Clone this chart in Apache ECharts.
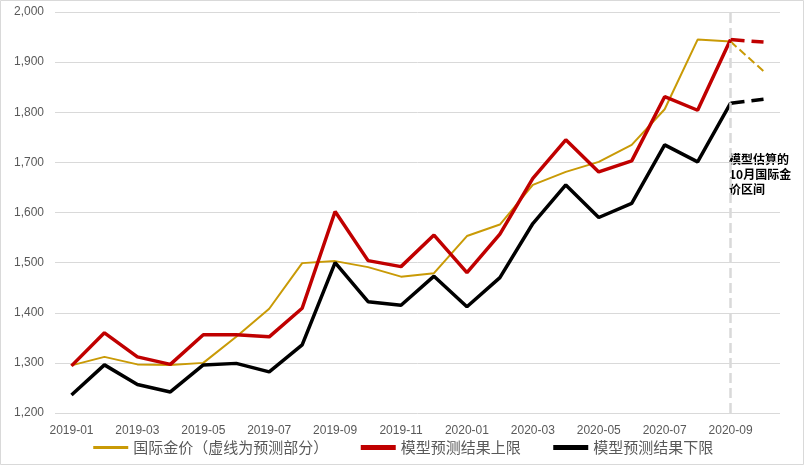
<!DOCTYPE html>
<html>
<head>
<meta charset="utf-8">
<script src="https://cdn.jsdelivr.net/npm/echarts@6/dist/echarts.min.js"></script>
<style>html,body{margin:0;padding:0;background:#fff}#c{width:805px;height:466px}</style>
</head>
<body>
<div id="c"></div>
<script>
var categories = ['2019-01','2019-02','2019-03','2019-04','2019-05','2019-06','2019-07','2019-08','2019-09','2019-10','2019-11','2019-12','2020-01','2020-02','2020-03','2020-04','2020-05','2020-06','2020-07','2020-08','2020-09','2020-10'];
var goldActual = [1295,1312,1297,1296,1300,1352,1408,1499,1503,1491,1472,1479,1553,1576,1655,1681,1701,1735,1806,1945,1941,null];
var goldForecast = [null,null,null,null,null,null,null,null,null,null,null,null,null,null,null,null,null,null,null,null,1941,1882];
var upperModel = [1294,1360,1312,1297,1356,1356,1352,1409,1602,1504,1492,1555,1480,1557,1668,1745,1681,1703,1831,1804,1945,null];
var upperForecast = [null,null,null,null,null,null,null,null,null,null,null,null,null,null,null,null,null,null,null,null,1945,1940];
var lowerModel = [1236,1296,1257,1242,1296,1299,1282,1336,1500,1422,1415,1473,1412,1470,1578,1655,1590,1618,1735,1701,1818,null];
var lowerForecast = [null,null,null,null,null,null,null,null,null,null,null,null,null,null,null,null,null,null,null,null,1818,1826];
var seriesNames = ['国际金价（虚线为预测部分）','模型预测结果上限','模型预测结果下限'];
var forecastMonth = '2020-09';
var noteText = '模型估算的\n10月国际金\n价区间';

var chart = echarts.init(document.getElementById('c'), null, {renderer:'canvas'});
var gold = '#C99A06', red = '#C00000', black = '#000000';
function line(name, data, color, width, dashed, z){
  return {name:name, type:'line', data:data, symbol:'none', smooth:false,
    lineStyle:{color:color, width:width, type: dashed ? 'dashed' : 'solid'},
    itemStyle:{color:color}, connectNulls:false, z: z || 2};
}
var markerSeries = {name:'marker', type:'line', data:[], symbol:'none', silent:true, z:1,
  markLine:{silent:true, symbol:'none', label:{show:false}, animation:false,
    lineStyle:{color:'#d9d9d9', type:'dashed', width:2.5},
    data:[{xAxis:forecastMonth}]}};
chart.setOption({
  animation:false,
  backgroundColor:'#fff',
  graphic:[
    {type:'rect', shape:{x:0.5,y:0.5,width:803,height:464}, style:{fill:null, stroke:'#d9d9d9', lineWidth:1}, silent:true, z:-1},
    {type:'text', left:729, top:152, style:{text:noteText, fill:'#000', font:'bold 12px "Noto Sans CJK SC"', lineHeight:15}}
  ],
  grid:{left:55, right:25, top:12, bottom:53},
  legend:{data:[
      {name:seriesNames[0], lineStyle:{width:3}},
      {name:seriesNames[1], lineStyle:{width:5}},
      {name:seriesNames[2], lineStyle:{width:5}}
    ], bottom:6, left:'center', itemWidth:35, itemHeight:14, itemGap:30,
    itemStyle:{opacity:0},
    textStyle:{color:'#595959', fontSize:15, fontFamily:'"Noto Sans CJK SC"'}},
  xAxis:{type:'category', data:categories, boundaryGap:true,
    axisLine:{show:false}, axisTick:{show:false},
    axisLabel:{interval:1, color:'#595959', fontSize:12, margin:12, fontFamily:'"Liberation Sans", Arial'}},
  yAxis:{type:'value', min:1200, max:2000, interval:100,
    axisLine:{show:false}, axisTick:{show:false},
    splitLine:{lineStyle:{color:'#d9d9d9', width:1}},
    axisLabel:{color:'#595959', fontSize:12, margin:11, fontFamily:'"Liberation Sans", Arial',
      formatter:function(v){return v.toLocaleString('en-US');}}},
  series:[
    line(seriesNames[0], goldActual, gold, 2, false, 2),
    line(seriesNames[1], upperModel, red, 3.5, false, 3),
    line(seriesNames[2], lowerModel, black, 3.5, false, 3),
    line(seriesNames[0], goldForecast, gold, 2, true, 2),
    line(seriesNames[1], upperForecast, red, 3.5, true, 3),
    line(seriesNames[2], lowerForecast, black, 3.5, true, 3),
    markerSeries
  ]
});
</script>
</body>
</html>
